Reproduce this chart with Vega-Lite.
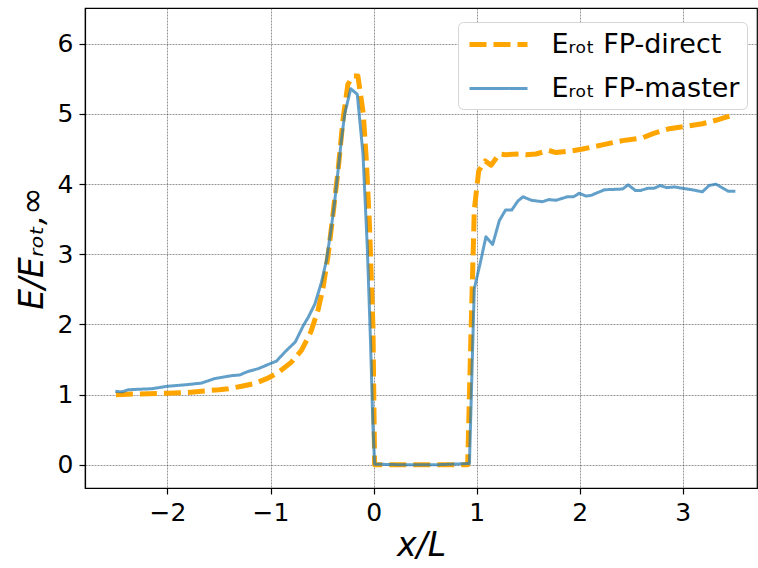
{
  "$schema": "https://vega.github.io/schema/vega-lite/v6.json",
  "width": 672,
  "height": 480,
  "autosize": {"type": "none"},
  "padding": {"left": 85, "top": 8, "right": 1, "bottom": 80},
  "background": "white",
  "config": {
    "font": "DejaVu Sans",
    "view": {"stroke": "#000", "strokeWidth": 1.2},
    "axis": {
      "labelFont": "DejaVu Sans",
      "labelFontSize": 25,
      "labelColor": "#000",
      "tickColor": "#000",
      "tickSize": 6,
      "tickWidth": 1.2,
      "domainColor": "#000",
      "domainWidth": 1.2,
      "labelPadding": 6,
      "grid": true,
      "gridColor": "#444",
      "gridWidth": 0.8,
      "gridDash": [2, 1],
      "gridOpacity": 0.7,
      "titleFont": "DejaVu Sans",
      "titleFontSize": 33,
      "titleFontStyle": "italic",
      "titleFontWeight": "normal",
      "titleColor": "#000"
    },
    "legend": {
      "orient": "none",
      "legendX": 373,
      "legendY": 14,
      "labelFont": "DejaVu Sans",
      "labelFontSize": 27,
      "labelColor": "#000",
      "labelLimit": 400,
      "symbolType": "M-0.88,0H3.76",
      "symbolSize": 625,
      "labelOffset": 56,
      "rowPadding": 17,
      "padding": 7.5,
      "fillColor": "white",
      "strokeColor": "#d5d5d5",
      "cornerRadius": 5,
      "title": null
    }
  },
  "data": {
    "values": [
      {"x": -2.5, "y": 1.0, "s": "FP-direct"},
      {"x": -2.3, "y": 1.01, "s": "FP-direct"},
      {"x": -2.0, "y": 1.02, "s": "FP-direct"},
      {"x": -1.8, "y": 1.03, "s": "FP-direct"},
      {"x": -1.67, "y": 1.05, "s": "FP-direct"},
      {"x": -1.5, "y": 1.07, "s": "FP-direct"},
      {"x": -1.41, "y": 1.085, "s": "FP-direct"},
      {"x": -1.28, "y": 1.12, "s": "FP-direct"},
      {"x": -1.15, "y": 1.16, "s": "FP-direct"},
      {"x": -1.02, "y": 1.24, "s": "FP-direct"},
      {"x": -0.93, "y": 1.31, "s": "FP-direct"},
      {"x": -0.8, "y": 1.46, "s": "FP-direct"},
      {"x": -0.7, "y": 1.63, "s": "FP-direct"},
      {"x": -0.61, "y": 1.89, "s": "FP-direct"},
      {"x": -0.54, "y": 2.2, "s": "FP-direct"},
      {"x": -0.49, "y": 2.53, "s": "FP-direct"},
      {"x": -0.44, "y": 3.0, "s": "FP-direct"},
      {"x": -0.39, "y": 3.62, "s": "FP-direct"},
      {"x": -0.345, "y": 4.19, "s": "FP-direct"},
      {"x": -0.297, "y": 4.92, "s": "FP-direct"},
      {"x": -0.25, "y": 5.42, "s": "FP-direct"},
      {"x": -0.2, "y": 5.54, "s": "FP-direct"},
      {"x": -0.152, "y": 5.54, "s": "FP-direct"},
      {"x": -0.1, "y": 5.0, "s": "FP-direct"},
      {"x": -0.07, "y": 4.33, "s": "FP-direct"},
      {"x": -0.039, "y": 3.38, "s": "FP-direct"},
      {"x": -0.006, "y": 1.96, "s": "FP-direct"},
      {"x": 0.01, "y": 0.0, "s": "FP-direct"},
      {"x": 0.3, "y": 0.0, "s": "FP-direct"},
      {"x": 0.6, "y": 0.0, "s": "FP-direct"},
      {"x": 0.913, "y": 0.0, "s": "FP-direct"},
      {"x": 0.945, "y": 1.87, "s": "FP-direct"},
      {"x": 0.977, "y": 3.63, "s": "FP-direct"},
      {"x": 1.02, "y": 4.19, "s": "FP-direct"},
      {"x": 1.084, "y": 4.33, "s": "FP-direct"},
      {"x": 1.14, "y": 4.27, "s": "FP-direct"},
      {"x": 1.22, "y": 4.43, "s": "FP-direct"},
      {"x": 1.28, "y": 4.42, "s": "FP-direct"},
      {"x": 1.41, "y": 4.43, "s": "FP-direct"},
      {"x": 1.48, "y": 4.42, "s": "FP-direct"},
      {"x": 1.575, "y": 4.43, "s": "FP-direct"},
      {"x": 1.7, "y": 4.48, "s": "FP-direct"},
      {"x": 1.77, "y": 4.45, "s": "FP-direct"},
      {"x": 1.9, "y": 4.47, "s": "FP-direct"},
      {"x": 2.03, "y": 4.5, "s": "FP-direct"},
      {"x": 2.22, "y": 4.56, "s": "FP-direct"},
      {"x": 2.415, "y": 4.62, "s": "FP-direct"},
      {"x": 2.61, "y": 4.66, "s": "FP-direct"},
      {"x": 2.71, "y": 4.72, "s": "FP-direct"},
      {"x": 2.87, "y": 4.79, "s": "FP-direct"},
      {"x": 3.06, "y": 4.83, "s": "FP-direct"},
      {"x": 3.19, "y": 4.86, "s": "FP-direct"},
      {"x": 3.32, "y": 4.91, "s": "FP-direct"},
      {"x": 3.48, "y": 4.98, "s": "FP-direct"},

      {"x": -2.506, "y": 1.047, "s": "FP-master"},
      {"x": -2.44, "y": 1.04, "s": "FP-master"},
      {"x": -2.38, "y": 1.07, "s": "FP-master"},
      {"x": -2.15, "y": 1.085, "s": "FP-master"},
      {"x": -2.0, "y": 1.12, "s": "FP-master"},
      {"x": -1.83, "y": 1.14, "s": "FP-master"},
      {"x": -1.67, "y": 1.165, "s": "FP-master"},
      {"x": -1.54, "y": 1.23, "s": "FP-master"},
      {"x": -1.38, "y": 1.27, "s": "FP-master"},
      {"x": -1.3, "y": 1.28, "s": "FP-master"},
      {"x": -1.22, "y": 1.33, "s": "FP-master"},
      {"x": -1.12, "y": 1.37, "s": "FP-master"},
      {"x": -1.006, "y": 1.44, "s": "FP-master"},
      {"x": -0.94, "y": 1.48, "s": "FP-master"},
      {"x": -0.86, "y": 1.61, "s": "FP-master"},
      {"x": -0.76, "y": 1.75, "s": "FP-master"},
      {"x": -0.68, "y": 1.99, "s": "FP-master"},
      {"x": -0.635, "y": 2.1, "s": "FP-master"},
      {"x": -0.57, "y": 2.29, "s": "FP-master"},
      {"x": -0.506, "y": 2.6, "s": "FP-master"},
      {"x": -0.458, "y": 2.91, "s": "FP-master"},
      {"x": -0.41, "y": 3.38, "s": "FP-master"},
      {"x": -0.377, "y": 3.76, "s": "FP-master"},
      {"x": -0.345, "y": 4.19, "s": "FP-master"},
      {"x": -0.313, "y": 4.62, "s": "FP-master"},
      {"x": -0.28, "y": 5.0, "s": "FP-master"},
      {"x": -0.222, "y": 5.36, "s": "FP-master"},
      {"x": -0.158, "y": 5.28, "s": "FP-master"},
      {"x": -0.103, "y": 4.43, "s": "FP-master"},
      {"x": -0.061, "y": 3.1, "s": "FP-master"},
      {"x": -0.029, "y": 1.72, "s": "FP-master"},
      {"x": -0.006, "y": 0.54, "s": "FP-master"},
      {"x": 0.01, "y": 0.01, "s": "FP-master"},
      {"x": 0.3, "y": 0.0, "s": "FP-master"},
      {"x": 0.6, "y": 0.0, "s": "FP-master"},
      {"x": 0.93, "y": 0.02, "s": "FP-master"},
      {"x": 0.977, "y": 2.51, "s": "FP-master"},
      {"x": 1.04, "y": 2.91, "s": "FP-master"},
      {"x": 1.09, "y": 3.25, "s": "FP-master"},
      {"x": 1.155, "y": 3.14, "s": "FP-master"},
      {"x": 1.22, "y": 3.48, "s": "FP-master"},
      {"x": 1.28, "y": 3.63, "s": "FP-master"},
      {"x": 1.34, "y": 3.63, "s": "FP-master"},
      {"x": 1.4, "y": 3.76, "s": "FP-master"},
      {"x": 1.45, "y": 3.82, "s": "FP-master"},
      {"x": 1.53, "y": 3.77, "s": "FP-master"},
      {"x": 1.64, "y": 3.75, "s": "FP-master"},
      {"x": 1.7, "y": 3.78, "s": "FP-master"},
      {"x": 1.77, "y": 3.77, "s": "FP-master"},
      {"x": 1.88, "y": 3.82, "s": "FP-master"},
      {"x": 1.94, "y": 3.82, "s": "FP-master"},
      {"x": 1.995, "y": 3.87, "s": "FP-master"},
      {"x": 2.06, "y": 3.83, "s": "FP-master"},
      {"x": 2.11, "y": 3.84, "s": "FP-master"},
      {"x": 2.24, "y": 3.92, "s": "FP-master"},
      {"x": 2.415, "y": 3.93, "s": "FP-master"},
      {"x": 2.47, "y": 3.99, "s": "FP-master"},
      {"x": 2.54, "y": 3.91, "s": "FP-master"},
      {"x": 2.59, "y": 3.91, "s": "FP-master"},
      {"x": 2.66, "y": 3.94, "s": "FP-master"},
      {"x": 2.72, "y": 3.94, "s": "FP-master"},
      {"x": 2.78, "y": 3.98, "s": "FP-master"},
      {"x": 2.845, "y": 3.95, "s": "FP-master"},
      {"x": 2.92, "y": 3.96, "s": "FP-master"},
      {"x": 3.0, "y": 3.94, "s": "FP-master"},
      {"x": 3.09, "y": 3.92, "s": "FP-master"},
      {"x": 3.19, "y": 3.89, "s": "FP-master"},
      {"x": 3.255, "y": 3.98, "s": "FP-master"},
      {"x": 3.32, "y": 4.0, "s": "FP-master"},
      {"x": 3.38, "y": 3.95, "s": "FP-master"},
      {"x": 3.44, "y": 3.9, "s": "FP-master"},
      {"x": 3.51, "y": 3.9, "s": "FP-master"}
    ]
  },
  "mark": {"type": "line", "strokeCap": "butt", "strokeJoin": "round"},
  "encoding": {
    "x": {
      "field": "x",
      "type": "quantitative",
      "scale": {"domain": [-2.8, 3.72], "nice": false, "zero": false},
      "axis": {"values": [-2, -1, 0, 1, 2, 3], "title": "x/L", "titlePadding": 4}
    },
    "y": {
      "field": "y",
      "type": "quantitative",
      "scale": {"domain": [-0.33, 6.51], "nice": false, "zero": false},
      "axis": {"values": [0, 1, 2, 3, 4, 5, 6], "title": "E/Eᵣₒₜ,∞", "titlePadding": 8}
    },
    "order": {"field": "x", "type": "quantitative"},
    "color": {
      "field": "s",
      "type": "nominal",
      "scale": {"domain": ["FP-direct", "FP-master"], "range": ["#FFA500", "#1f77b4"]},
      "legend": {"labelExpr": "'Eᵣₒₜ ' + datum.label"}
    },
    "strokeDash": {
      "field": "s",
      "type": "nominal",
      "scale": {"domain": ["FP-direct", "FP-master"], "range": [[17, 7], [1, 0]]},
      "legend": {"labelExpr": "'Eᵣₒₜ ' + datum.label"}
    },
    "strokeWidth": {
      "field": "s",
      "type": "nominal",
      "scale": {"domain": ["FP-direct", "FP-master"], "range": [5, 3]},
      "legend": {"labelExpr": "'Eᵣₒₜ ' + datum.label"}
    },
    "opacity": {
      "field": "s",
      "type": "nominal",
      "scale": {"domain": ["FP-direct", "FP-master"], "range": [1, 0.7]},
      "legend": {"labelExpr": "'Eᵣₒₜ ' + datum.label"}
    }
  }
}
